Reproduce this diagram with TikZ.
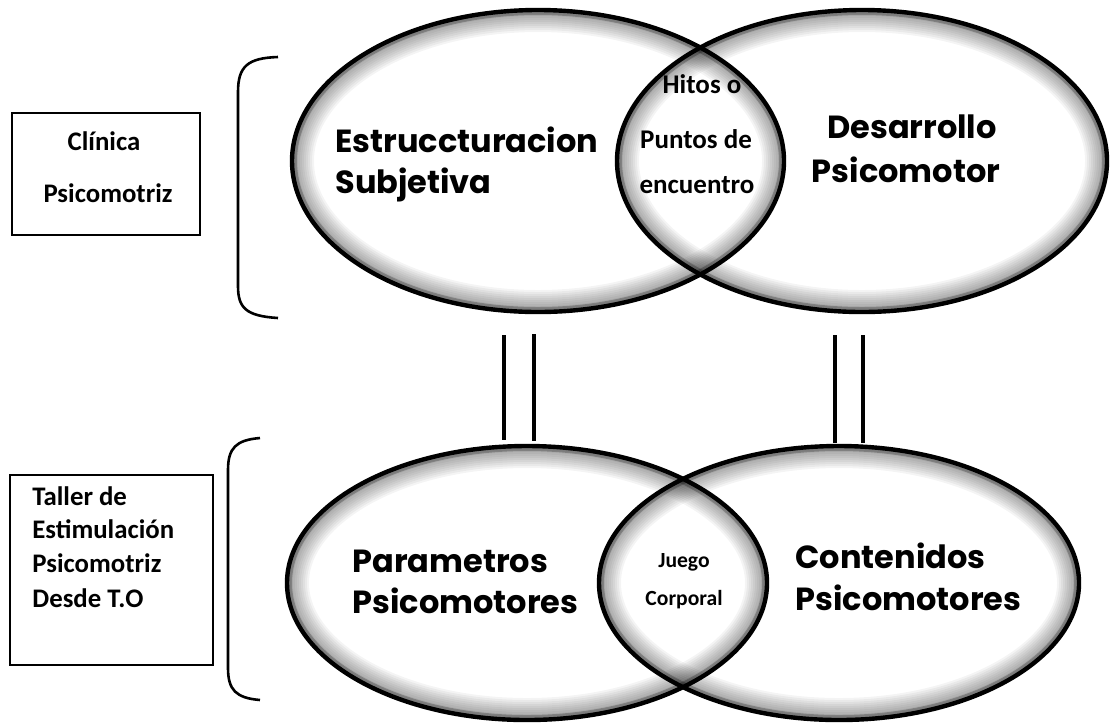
\documentclass[tikz,border=0pt]{standalone}
\usepackage{fontspec}
\setmainfont{Carlito}
\newfontfamily\roundf{Poppins}
\usetikzlibrary{shapes.geometric}
\tikzset{
  ellout/.style={draw=black, line width=2.2pt, ellipse, inner sep=0pt, fill=none},
  bigtxt/.style={font=\roundf\bfseries\fontsize{16}{18}\selectfont, inner sep=0pt},
  lenstxt/.style={font=\bfseries\fontsize{13.5}{15}\selectfont, inner sep=0pt, anchor=base},
  smalllens/.style={font=\bfseries\fontsize{10.8}{12}\selectfont},
  boxtxt/.style={font=\bfseries\fontsize{13.4}{16}\selectfont, inner sep=0pt},
  frame/.style={draw=black, line width=1.2pt},
  bracket/.style={draw=black, line width=1.3pt},
  eqline/.style={draw=black, line width=1.8pt}
}
\newcommand\glowell[4]{%
  \begin{scope}
    \clip (#1,#2) ellipse ({#3} and {#4});
    \foreach \w in {2,4,...,22}
      \draw[black, opacity=0.045, line width=\w pt] (#1,#2) ellipse ({#3} and {#4});
    \draw[black, opacity=0.25, line width=5pt] (#1,#2) ellipse ({#3} and {#4});
  \end{scope}}
\begin{document}
\begin{tikzpicture}[x=0.5pt,y=-0.5pt]
\useasboundingbox (0,0) rectangle (1111,724);
% glows
\glowell{538}{161}{246}{151}
\glowell{862}{161}{245}{151}
\glowell{527}{583}{240}{137}
\glowell{839}{583}{240}{137}
% ellipse outlines
\node[ellout, minimum width=246pt, minimum height=151pt] (tl) at (538,161) {};
\node[ellout, minimum width=245pt, minimum height=151pt] (tr) at (862,161) {};
\node[ellout, minimum width=240pt, minimum height=137pt] (bl) at (527,583) {};
\node[ellout, minimum width=240pt, minimum height=137pt] (br) at (839,583) {};
% ellipse texts
\node[bigtxt, anchor=base west] (t1a) at (335,152) {Estruccturacion};
\node[bigtxt, anchor=base west] (t1b) at (335,193) {Subjetiva};
\node[bigtxt, anchor=base] (t2a) at (912,138) {Desarrollo};
\node[bigtxt, anchor=base] (t2b) at (906,182) {Psicomotor};
\node[bigtxt, anchor=base west] (t3a) at (352,572) {Parametros};
\node[bigtxt, anchor=base west] (t3b) at (352,613) {Psicomotores};
\node[bigtxt, anchor=base west] (t4a) at (795,568) {Contenidos};
\node[bigtxt, anchor=base west] (t4b) at (795,610) {Psicomotores};
% lens texts
\node[lenstxt] (h1) at (702,93) {Hitos o};
\node[lenstxt] (h2) at (696,148) {Puntos de};
\node[lenstxt] (h3) at (697,193) {encuentro};
\node[lenstxt, smalllens] (j1) at (684,567) {Juego};
\node[lenstxt, smalllens] (j2) at (684,605) {Corporal};
% left boxes
\node[frame, minimum width=94pt, minimum height=61pt, inner sep=0pt] (box1) at (106,174) {};
\node[boxtxt, anchor=base] (b1a) at (104,150) {Clínica};
\node[boxtxt, anchor=base] (b1b) at (108,202) {Psicomotriz};
\node[frame, minimum width=101.5pt, minimum height=95pt, inner sep=0pt] (box2) at (111.5,570) {};
\node[boxtxt, anchor=base west] (b2a) at (32,505) {Taller de};
\node[boxtxt, anchor=base west] (b2b) at (32,538) {Estimulación};
\node[boxtxt, anchor=base west] (b2c) at (32,572) {Psicomotriz};
\node[boxtxt, anchor=base west] (b2d) at (32,607) {Desde T.O};
% brackets
\coordinate (br1t) at (278,57);
\coordinate (br1b) at (278,318);
\draw[bracket] (br1t) .. controls (248,58) and (238,66) .. (238,92) -- (238,286) .. controls (238,308) and (246,316) .. (br1b);
\coordinate (br2t) at (260,438);
\coordinate (br2b) at (260,700);
\draw[bracket] (br2t) .. controls (236,440) and (228,448) .. (228,470) -- (228,668) .. controls (228,690) and (236,698) .. (br2b);
% equality lines
\coordinate (e1t) at (504,335); \coordinate (e1b) at (504,440);
\coordinate (e2t) at (534,334); \coordinate (e2b) at (534,441);
\coordinate (e3t) at (835,335); \coordinate (e3b) at (835,443);
\coordinate (e4t) at (863,335); \coordinate (e4b) at (863,443);
\draw[eqline] (e1t) -- (e1b);
\draw[eqline] (e2t) -- (e2b);
\draw[eqline] (e3t) -- (e3b);
\draw[eqline] (e4t) -- (e4b);
\end{tikzpicture}
\end{document}
